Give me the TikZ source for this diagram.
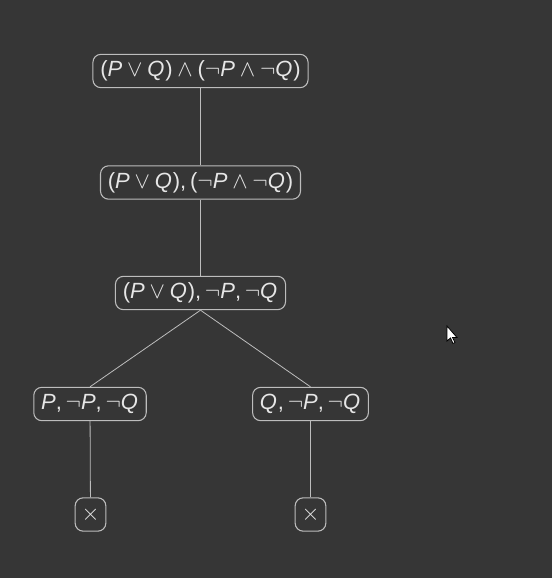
\documentclass[tikz,border=0pt]{standalone}
\usepackage{fontspec}
\setmainfont{Liberation Sans}
\definecolor{bg}{HTML}{363636}
\definecolor{ink}{HTML}{E6E6E6}
\definecolor{edge}{HTML}{BDBDBD}
% formula pieces
\newcommand{\vP}{\textit{P}}
\newcommand{\vQ}{\textit{Q\kern0.04em}}
\newcommand{\myor}{\hspace{0.22em}$\vee$\hspace{0.22em}}
\newcommand{\myand}{\hspace{0.22em}$\wedge$\hspace{0.22em}}
\newcommand{\mynot}{$\neg$}
\newcommand{\cm}{,\hspace{0.17em}}
\begin{document}
\begin{tikzpicture}[x=0.75pt,y=-0.75pt,
  fnode/.style={draw=edge,line width=0.8pt,rounded corners=6pt,text=ink,
    font=\fontsize{16.5}{18}\selectfont,minimum height=25pt,inner xsep=5.5pt,inner ysep=0pt},
  conn/.style={draw=edge,line width=0.6pt}]
\fill[bg] (0,0) rectangle (552,578);
\useasboundingbox (0,0) rectangle (552,578);
\node[fnode] (n1) at (200.5,71) {(\vP\myor\vQ)\myand(\mynot\vP\myand\mynot\vQ)};
\node[fnode] (n2) at (200.5,182.5) {(\vP\myor\vQ)\cm(\mynot\vP\myand\mynot\vQ)};
\node[fnode] (n3) at (200.5,293) {(\vP\myor\vQ)\cm\mynot\vP\cm\mynot\vQ};
\node[fnode] (n4) at (90,404) {\vP\cm\mynot\vP\cm\mynot\vQ};
\node[fnode] (n5) at (310.5,404) {\vQ\cm\mynot\vP\cm\mynot\vQ};
\node[fnode,minimum width=23pt,inner xsep=0pt] (n6) at (90.5,514.5) {$\times$};
\node[fnode,minimum width=23pt,inner xsep=0pt] (n7) at (310.5,514.5) {$\times$};
\draw[conn] (n1) -- (n2);
\draw[conn] (n2) -- (n3);
\draw[conn] (n3.south) -- (n4.north);
\draw[conn] (n3.south) -- (n5.north);
\draw[conn] (n4) -- (n6);
\draw[conn] (n5) -- (n7);
% pointer
\filldraw[fill=white,draw=black,line width=0.6pt,line join=miter]
  (447,326) -- (447,341) -- (450.5,338) -- (453,343.5) -- (455,342.5) -- (452.5,337.5) -- (457,337.5) -- cycle;
\end{tikzpicture}
\end{document}
